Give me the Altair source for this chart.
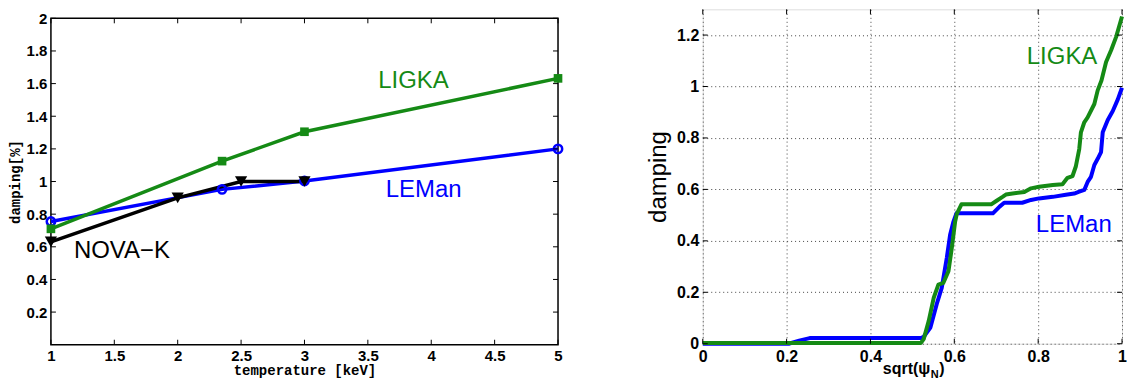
import altair as alt
import pandas as pd

# ---------------- Left panel data ----------------
temp_leman = [1.0, 2.35, 3.0, 5.0]
damp_leman = [0.755, 0.952, 1.003, 1.2]
temp_ligka = [1.0, 2.35, 3.0, 5.0]
damp_ligka = [0.71, 1.125, 1.305, 1.632]
temp_nova = [1.0, 2.0, 2.5, 3.0]
damp_nova = [0.63, 0.9, 1.0, 1.0]

left_xticks = [1, 1.5, 2, 2.5, 3, 3.5, 4, 4.5, 5]
left_yticks = [0.2, 0.4, 0.6, 0.8, 1.0, 1.2, 1.4, 1.6, 1.8, 2.0]

left_label_text = ["LIGKA", "LEMan", "NOVA\u2212K"]
left_label_x = [3.86, 3.94, 1.56]
left_label_y = [1.615, 0.945, 0.575]
left_label_color = ["#158a15", "#0000ff", "#000000"]

# ---------------- Right panel data ----------------
psi_leman = [0.0, 0.205, 0.23, 0.255, 0.52, 0.527, 0.543, 0.558, 0.570, 0.582,
             0.590, 0.598, 0.605, 0.692, 0.708, 0.719, 0.762, 0.783, 0.802,
             0.835, 0.866, 0.886, 0.898, 0.910, 0.918, 0.926, 0.934, 0.942,
             0.950, 0.954, 0.966, 0.978, 0.990, 1.0]
damp_r_leman = [0.0, 0.0, 0.012, 0.022, 0.022, 0.027, 0.063, 0.154, 0.217, 0.333,
                0.424, 0.475, 0.507, 0.507, 0.533, 0.548, 0.548, 0.559, 0.565,
                0.571, 0.579, 0.584, 0.591, 0.598, 0.629, 0.649, 0.695, 0.719,
                0.745, 0.822, 0.870, 0.905, 0.950, 0.995]

psi_ligka = [0.0, 0.52, 0.527, 0.539, 0.551, 0.562, 0.574, 0.586, 0.594, 0.602,
             0.606, 0.617, 0.688, 0.700, 0.715, 0.723, 0.739, 0.767, 0.783,
             0.802, 0.835, 0.858, 0.870, 0.882, 0.890, 0.898, 0.902, 0.910,
             0.918, 0.934, 0.942, 0.951, 0.962, 0.974, 0.986, 1.0]
damp_r_ligka = [0.003, 0.003, 0.018, 0.089, 0.179, 0.230, 0.237, 0.282, 0.372, 0.475,
                0.505, 0.542, 0.542, 0.555, 0.571, 0.580, 0.584, 0.590, 0.604,
                0.610, 0.617, 0.620, 0.645, 0.652, 0.690, 0.757, 0.822, 0.861,
                0.880, 0.932, 0.985, 1.023, 1.095, 1.141, 1.193, 1.272]

right_xticks = [0, 0.2, 0.4, 0.6, 0.8, 1.0]
right_yticks = [0, 0.2, 0.4, 0.6, 0.8, 1.0, 1.2]

right_label_text = ["LIGKA", "LEMan"]
right_label_x = [0.857, 0.885]
right_label_y = [1.113, 0.463]
right_label_color = ["#158a15", "#0000ff"]

# ---------------- Styling ----------------
FONT = "Liberation Sans"
MONO = "Liberation Mono"
GREEN = "#158a15"
BLUE = "#0000ff"
BLACK = "#000000"

LW, LH = 508, 336   # left plot area (frame starts OFF px below its top)
OFF = 9
RW, RH = 420, 335
TICK = 5

# ---------------- Left panel ----------------
lx_scale = alt.Scale(domain=[1, 5], nice=False, zero=False)
ly_scale = alt.Scale(domain=[0, 2], range=[LH, OFF], nice=False, zero=False)
lx_axis = alt.Axis(values=left_xticks, format="~g", title="temperature [keV]",
                   titleFont=MONO, titleFontSize=14, titleFontWeight="bold", titleColor="black",
                   labelFont=FONT, labelFontSize=15, labelFontWeight="bold", labelColor="black",
                   ticks=False, domain=False, grid=False, labelPadding=4, titlePadding=0,
                   labelFlush=False, labelOverlap=False)
ly_axis = alt.Axis(values=left_yticks, format="~g", title="damping[%]",
                   titleFont=MONO, titleFontSize=14, titleFontWeight="bold", titleColor="black",
                   labelFont=FONT, labelFontSize=15, labelFontWeight="bold", labelColor="black",
                   ticks=False, domain=False, grid=False, labelPadding=4, titlePadding=4,
                   labelFlush=False, labelOverlap=False)
LX = alt.X("x:Q", scale=lx_scale, axis=lx_axis)
LY = alt.Y("y:Q", scale=ly_scale, axis=ly_axis)

left_layers = []
one = pd.DataFrame({"k": [0]})
left_layers.append(alt.Chart(one).mark_rect(filled=False, stroke="black", strokeWidth=1.5).encode(
    x=alt.value(0), x2=alt.value(LW), y=alt.value(OFF), y2=alt.value(LH)))

series = [
    (temp_leman, damp_leman, BLUE, "circle", 70, False),
    (temp_ligka, damp_ligka, GREEN, "square", 75, True),
    (temp_nova, damp_nova, BLACK, "triangle-down", 150, True),
]
for xs, ys, col, _, _, _ in series:
    df = pd.DataFrame({"x": xs, "y": ys})
    left_layers.append(alt.Chart(df).mark_line(color=col, strokeWidth=3.5).encode(x=LX, y=LY))
for xs, ys, col, shape, size, filled in series:
    df = pd.DataFrame({"x": xs, "y": ys})
    left_layers.append(
        alt.Chart(df).mark_point(shape=shape, filled=filled, color=col, size=size,
                                 strokeWidth=2.5, opacity=1).encode(x=LX, y=LY))

ldf_lab = pd.DataFrame({"x": left_label_x, "y": left_label_y, "t": left_label_text,
                        "c": left_label_color})
left_layers.append(alt.Chart(ldf_lab).mark_text(font=FONT, fontSize=24).encode(
    x=LX, y=LY, text="t:N", color=alt.Color("c:N", scale=None)))

ldf_xt = pd.DataFrame({"x": left_xticks})
ldf_yt = pd.DataFrame({"y": left_yticks})
left_layers += [
    alt.Chart(ldf_xt).mark_rule(color="black", strokeWidth=1).encode(
        x=LX, y=alt.value(LH), y2=alt.value(LH - TICK)),
    alt.Chart(ldf_xt).mark_rule(color="black", strokeWidth=1).encode(
        x=LX, y=alt.value(OFF), y2=alt.value(OFF + TICK)),
    alt.Chart(ldf_yt).mark_rule(color="black", strokeWidth=1).encode(
        y=LY, x=alt.value(0), x2=alt.value(TICK)),
    alt.Chart(ldf_yt).mark_rule(color="black", strokeWidth=1).encode(
        y=LY, x=alt.value(LW), x2=alt.value(LW - TICK)),
]
left = alt.layer(*left_layers).properties(
    width=LW, height=LH, view=alt.ViewBackground(stroke=None))

# ---------------- Right panel ----------------
rx_scale = alt.Scale(domain=[0, 1], nice=False, zero=False)
ry_scale = alt.Scale(domain=[0, 1.3], nice=False, zero=False)
rx_axis = alt.Axis(values=right_xticks, format="~g", title=None,
                   labelFont=FONT, labelFontSize=16, labelFontWeight="bold", labelColor="black",
                   ticks=False, domain=False, grid=True, gridDash=[1, 3], gridColor="#444",
                   gridWidth=1, labelPadding=5, labelFlush=False, labelOverlap=False)
ry_axis = alt.Axis(values=right_yticks, format="~g", title="damping",
                   titleFont=FONT, titleFontSize=24, titleFontWeight="normal", titleColor="black",
                   labelFont=FONT, labelFontSize=16, labelFontWeight="bold", labelColor="black",
                   ticks=False, domain=False, grid=True, gridDash=[1, 3], gridColor="#444",
                   gridWidth=1, labelPadding=4, titlePadding=6,
                   labelFlush=False, labelOverlap=False)
RX = alt.X("x:Q", scale=rx_scale, axis=rx_axis)
RY = alt.Y("y:Q", scale=ry_scale, axis=ry_axis)

right_layers = []
for xs, ys, col in [(psi_leman, damp_r_leman, BLUE), (psi_ligka, damp_r_ligka, GREEN)]:
    df = pd.DataFrame({"x": xs, "y": ys})
    right_layers.append(alt.Chart(df).mark_line(color=col, strokeWidth=4,
                                                strokeJoin="round").encode(x=RX, y=RY))

rdf_lab = pd.DataFrame({"x": right_label_x, "y": right_label_y, "t": right_label_text,
                        "c": right_label_color})
right_layers.append(alt.Chart(rdf_lab).mark_text(font=FONT, fontSize=24).encode(
    x=RX, y=RY, text="t:N", color=alt.Color("c:N", scale=None)))

rdf_xt = pd.DataFrame({"x": right_xticks})
rdf_yt = pd.DataFrame({"y": right_yticks})
right_layers += [
    alt.Chart(rdf_xt).mark_rule(color="black", strokeWidth=1).encode(
        x=RX, y=alt.value(RH), y2=alt.value(RH - TICK)),
    alt.Chart(rdf_xt).mark_rule(color="black", strokeWidth=1).encode(
        x=RX, y=alt.value(0), y2=alt.value(TICK)),
    alt.Chart(rdf_yt).mark_rule(color="black", strokeWidth=1).encode(
        y=RY, x=alt.value(0), x2=alt.value(TICK)),
    alt.Chart(rdf_yt).mark_rule(color="black", strokeWidth=1).encode(
        y=RY, x=alt.value(RW), x2=alt.value(RW - TICK)),
]

right_layers += [
    alt.Chart(one).mark_text(text="sqrt(\u03c8", font=FONT, fontSize=16, fontWeight="bold",
                             align="right", baseline="alphabetic", color="black").encode(
        x=alt.value(RW / 2 + 18), y=alt.value(RH + 30)),
    alt.Chart(one).mark_text(text="N", font=FONT, fontSize=11, fontWeight="bold",
                             align="left", baseline="alphabetic", color="black").encode(
        x=alt.value(RW / 2 + 18.5), y=alt.value(RH + 34)),
    alt.Chart(one).mark_text(text=")", font=FONT, fontSize=16, fontWeight="bold",
                             align="left", baseline="alphabetic", color="black").encode(
        x=alt.value(RW / 2 + 27), y=alt.value(RH + 30)),
]
right = alt.layer(*right_layers).properties(width=RW, height=RH)

chart = alt.hconcat(left, right, spacing=78).properties(padding=0).configure_view(
    stroke="black", strokeWidth=1.5).configure_axis(
    labelFontWeight="bold", labelColor="black").configure(background="white")

chart.save("out.html", embed_options={"renderer": "svg", "actions": False})
